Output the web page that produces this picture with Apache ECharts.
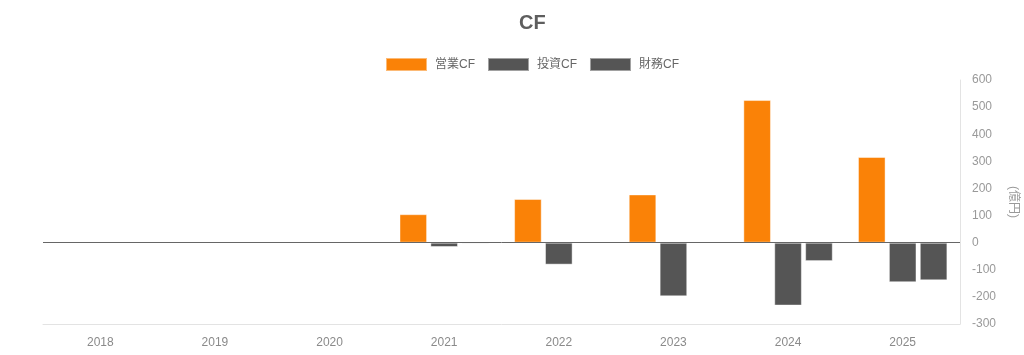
<!DOCTYPE html>
<html>
<head>
<meta charset="utf-8">
<script src="https://cdn.jsdelivr.net/npm/echarts@6/dist/echarts.min.js"></script>
<style>html,body{margin:0;padding:0;background:#fff;overflow:hidden}#c{width:1024px;height:355px}</style>
</head>
<body>
<div id="c"></div>
<script>
const years = ['2018','2019','2020','2021','2022','2023','2024','2025'];
const operatingCF = [null, null, null, 105, 161, 178, 526, 316];
const investingCF = [null, null, null, -16, -81, -198, -232, -146];
const financingCF = [null, null, null, -4, -3, -2, -68, -139];
const yTicks = { min: -300, max: 600, interval: 100 };

const chart = echarts.init(document.getElementById('c'), null, { renderer: 'canvas', width: 1024, height: 355 });
const font = '"Liberation Sans", "Noto Sans CJK JP", sans-serif';
const barBorder = { borderColor: 'rgba(255,255,255,0.45)', borderWidth: 1 };
chart.setOption({
  animation: false,
  textStyle: { fontFamily: font },
  title: {
    text: 'CF', left: 514, top: 8,
    textStyle: { fontSize: 20, fontWeight: 'bold', color: '#5e5e5e', fontFamily: font }
  },
  legend: {
    left: 380, top: 52, itemWidth: 41, itemHeight: 13, itemGap: 12, icon: 'rect',
    textStyle: { fontSize: 12, color: '#666', fontFamily: font, padding: [0, 0, 0, 3] },
    data: ['営業CF', '投資CF', '財務CF']
  },
  grid: { left: 43, right: 64, top: 80, bottom: 31, containLabel: false, outerBoundsMode: 'none' },
  xAxis: {
    type: 'category', data: years,
    axisLine: { onZero: false, lineStyle: { color: '#e3e3e3' } },
    axisTick: { show: false },
    axisLabel: { color: '#8a8a8a', fontSize: 12, margin: 13, fontFamily: font },
    splitLine: { show: false }
  },
  yAxis: {
    type: 'value', position: 'right',
    min: yTicks.min, max: yTicks.max, interval: yTicks.interval,
    name: '(億円)', nameLocation: 'middle', nameRotate: -90, nameGap: 43,
    nameTextStyle: { color: '#999', fontSize: 12, fontFamily: font },
    axisLine: { show: true, lineStyle: { color: '#e3e3e3' } },
    axisTick: { show: false },
    axisLabel: { color: '#999', fontSize: 12, margin: 12, fontFamily: font },
    splitLine: { show: false }
  },
  series: [
    {
      name: '営業CF', type: 'bar', data: operatingCF,
      barCategoryGap: '22%', barGap: '12%',
      itemStyle: Object.assign({ color: '#fa8207' }, barBorder),
      markLine: {
        silent: true, symbol: 'none', label: { show: false },
        lineStyle: { color: '#666', width: 1, type: 'solid' },
        data: [{ yAxis: 0 }]
      }
    },
    {
      name: '投資CF', type: 'bar', data: investingCF,
      barCategoryGap: '22%', barGap: '12%',
      itemStyle: Object.assign({ color: '#555555' }, barBorder)
    },
    {
      name: '財務CF', type: 'bar', data: financingCF,
      barCategoryGap: '22%', barGap: '12%',
      itemStyle: Object.assign({ color: '#555555' }, barBorder)
    }
  ]
});
</script>
</body>
</html>
